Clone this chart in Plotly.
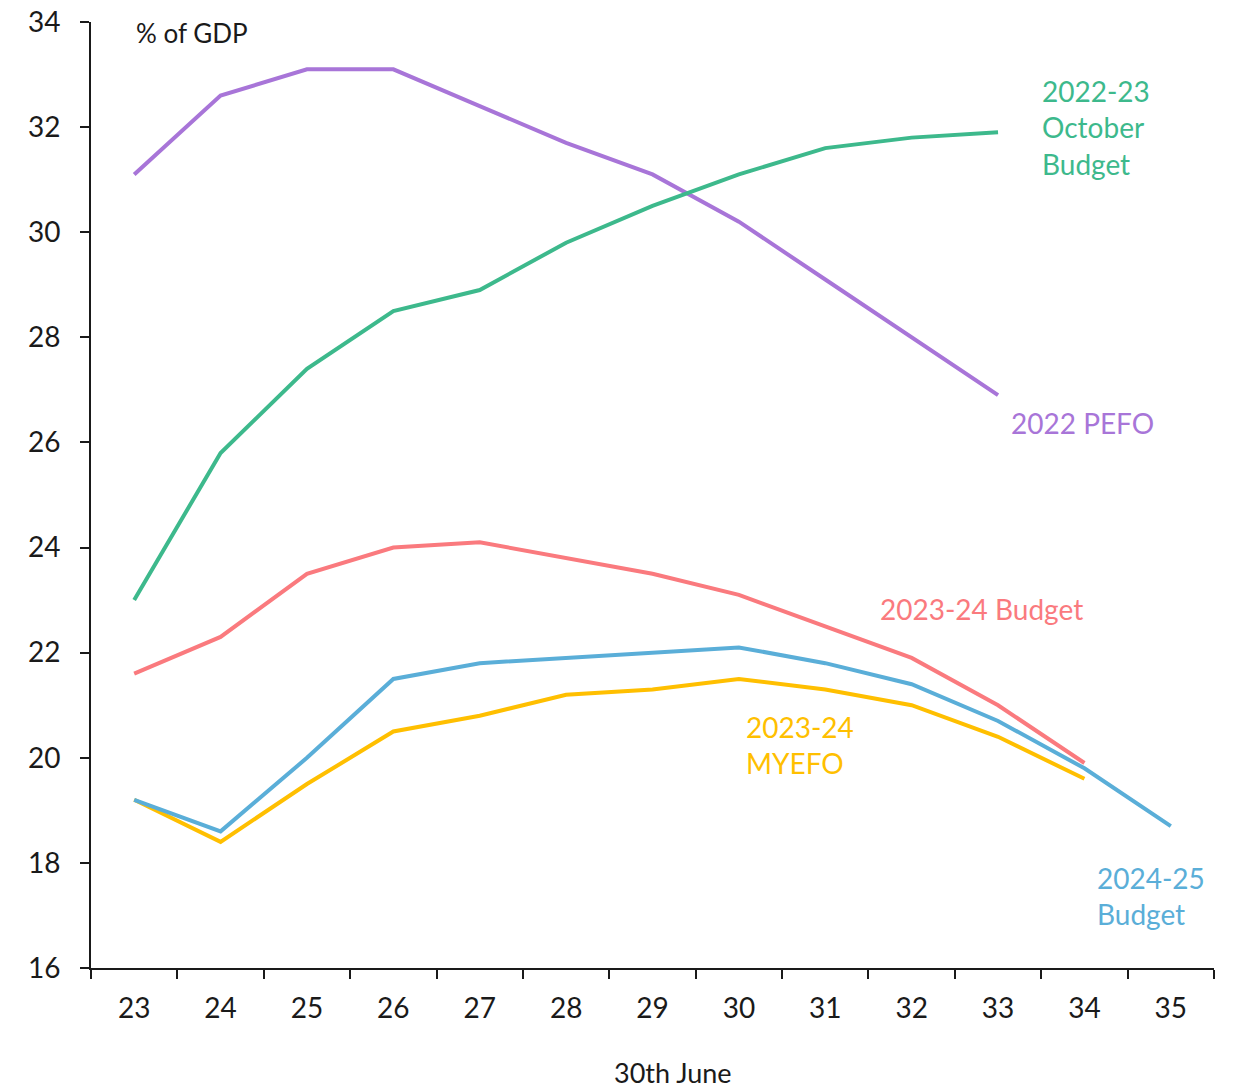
import plotly.graph_objects as go

years = ["23", "24", "25", "26", "27", "28", "29", "30", "31", "32", "33", "34", "35"]
pefo_2022 = [31.1, 32.6, 33.1, 33.1, 32.4, 31.7, 31.1, 30.2, 29.1, 28.0, 26.9]
oct_budget_2022 = [23.0, 25.8, 27.4, 28.5, 28.9, 29.8, 30.5, 31.1, 31.6, 31.8, 31.9]
budget_2023 = [21.6, 22.3, 23.5, 24.0, 24.1, 23.8, 23.5, 23.1, 22.5, 21.9, 21.0, 19.9]
myefo_2023 = [19.2, 18.4, 19.5, 20.5, 20.8, 21.2, 21.3, 21.5, 21.3, 21.0, 20.4, 19.6]
budget_2024 = [19.2, 18.6, 20.0, 21.5, 21.8, 21.9, 22.0, 22.1, 21.8, 21.4, 20.7, 19.8, 18.7]

FONT = "Lato"
C_PURPLE = "#A875D8"
C_GREEN = "#3DB98C"
C_RED = "#FA7A7E"
C_YELLOW = "#FFBF00"
C_BLUE = "#5AAED8"

fig = go.Figure()
series = [
    (pefo_2022, C_PURPLE, "2022 PEFO"),
    (oct_budget_2022, C_GREEN, "2022-23 October Budget"),
    (budget_2023, C_RED, "2023-24 Budget"),
    (myefo_2023, C_YELLOW, "2023-24 MYEFO"),
    (budget_2024, C_BLUE, "2024-25 Budget"),
]
for vals, col, name in series:
    fig.add_trace(go.Scatter(x=years[:len(vals)], y=vals, mode="lines", name=name,
                             line=dict(color=col, width=4), showlegend=False))

labels = [
    ("2022-23<br>October<br>Budget", 10.48, 32.0, C_GREEN),
    ("2022 PEFO", 10.13, 26.37, C_PURPLE),
    ("2023-24 Budget", 8.61, 22.83, C_RED),
    ("2023-24<br>MYEFO", 7.06, 20.24, C_YELLOW),
    ("2024-25<br>Budget", 11.12, 17.37, C_BLUE),
]
for txt, x, y, col in labels:
    fig.add_annotation(text=txt, x=x, y=y, xref="x", yref="y", xanchor="left", yanchor="middle",
                       align="left", showarrow=False, font=dict(family=FONT, size=28, color=col))

fig.add_annotation(text="% of GDP", x=0, y=33.8, xref="x", yref="y", xanchor="left", yanchor="middle",
                   showarrow=False, font=dict(family=FONT, size=26, color="#1a1a1a"))
fig.add_annotation(text="30th June", x=0.518, y=-0.1105, xref="paper", yref="paper", xanchor="center",
                   yanchor="middle", showarrow=False, font=dict(family=FONT, size=27, color="#1a1a1a"))

fig.update_layout(
    width=1237, height=1088,
    margin=dict(l=91, r=23, t=22, b=120, autoexpand=False),
    paper_bgcolor="white", plot_bgcolor="white",
    font=dict(family=FONT, size=28, color="#1a1a1a"),
)
fig.update_xaxes(type="category", categoryorder="array", categoryarray=years,
                 range=[-0.5, 12.5], tickson="boundaries", ticks="outside", ticklen=9,
                 tickwidth=2, tickcolor="#1a1a1a", showline=True, linecolor="#1a1a1a", linewidth=2,
                 showgrid=False, zeroline=False, ticklabelstandoff=14, automargin=False)
fig.update_yaxes(range=[16, 34], dtick=2, ticks="outside", ticklen=9, tickwidth=2,
                 tickcolor="#1a1a1a", showline=True, linecolor="#1a1a1a", linewidth=2,
                 showgrid=False, zeroline=False, ticklabelstandoff=14, automargin=False,
                 ticklabeloverflow="allow")

fig.write_html("out.html", config={"displayModeBar": False},
               post_script="document.body.style.margin='0';")
